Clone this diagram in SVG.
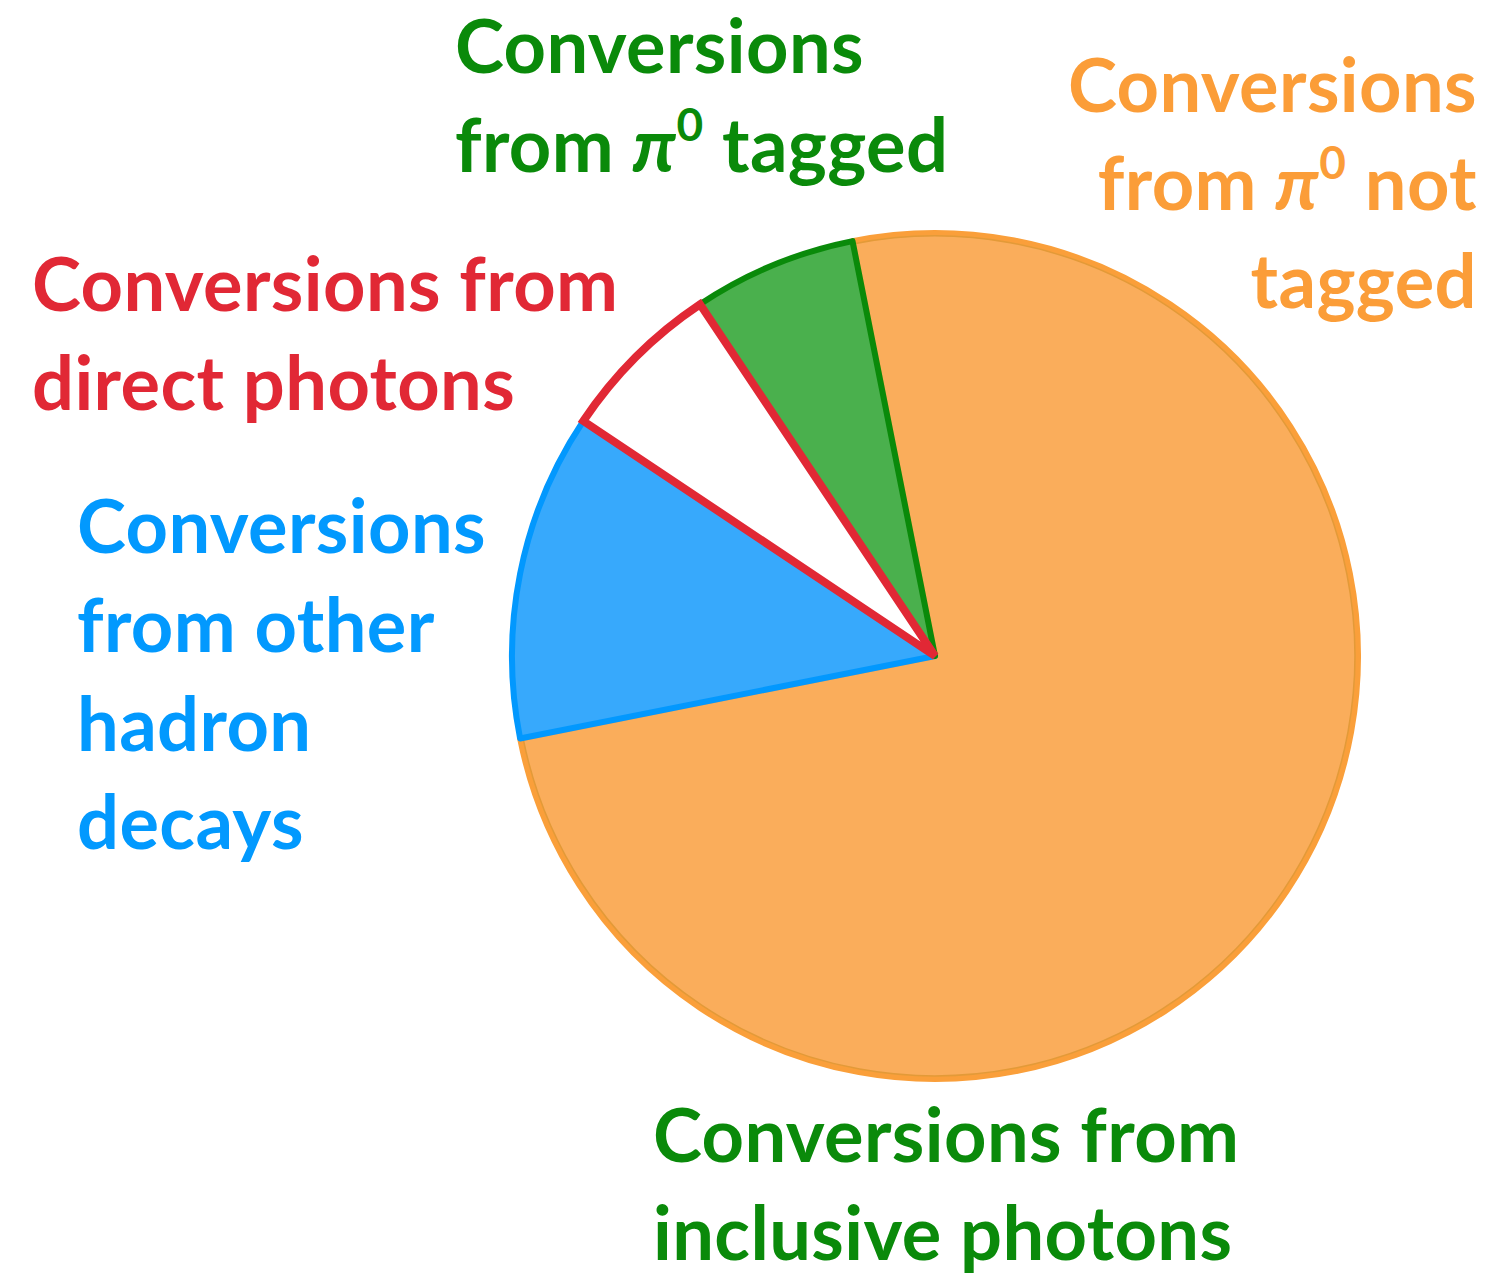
<svg xmlns="http://www.w3.org/2000/svg" width="1485" height="1277" viewBox="0 0 1485 1277">
  <style>
    .lbl { font-family: Lato, "Open Sans", "Liberation Sans", sans-serif; font-weight: 700; font-size: 74px; letter-spacing: 0.4px; }
    .green { fill: #0A8A0A; }
    .orange { fill: #FB9D38; }
    .red { fill: #E12835; }
    .blue { fill: #0299FE; }
    .sup { font-size: 46px; }
    .pi { font-style: italic; }
    .slice { stroke-width: 6; stroke-linejoin: round; }
  </style>
  <rect width="1485" height="1277" fill="#FFFFFF"/>

  <!-- pie chart: centre (935,656), radius 423 -->
  <g id="pie">
    <g id="slice-inclusive">
      <path class="slice" d="M935,656 L852.5,241.1 A423,423 0 1 1 520.1,738.5 Z" fill="#FAAD5B" stroke="#FA9F3A"/>
      <path d="M852.9,244 A420,420 0 1 1 523,737.9" fill="none" stroke="#E39A38" stroke-width="1.5"/>
    </g>
    <g id="slice-other-hadrons">
      <path class="slice" d="M935,656 L520.1,738.5 A423,423 0 0 1 583.3,421 Z" fill="#37A9FC" stroke="#0298FE"/>
    </g>
    <g id="slice-pi0-tagged">
      <path class="slice" d="M935,656 L700,304.3 A423,423 0 0 1 852.5,241.1 Z" fill="#4AB04D" stroke="#0A8A0A"/>
    </g>
    <g id="slice-direct">
      <path d="M935,656 L583.3,421 A423,423 0 0 1 700,304.3 Z" fill="#FFFFFF" stroke="#E12835" stroke-width="8" stroke-linejoin="miter"/>
    </g>
  </g>

  <!-- labels -->
  <g id="label-pi0-tagged">
    <text class="lbl green" x="455" y="73">Conversions</text>
    <text class="lbl green" x="455" y="172">from <tspan class="pi">π</tspan><tspan class="sup" dy="-31">0</tspan><tspan dy="31"> tagged</tspan></text>
  </g>
  <g id="label-pi0-not-tagged">
    <text class="lbl orange" x="1477" y="112" text-anchor="end">Conversions</text>
    <text class="lbl orange" x="1477" y="210" text-anchor="end">from <tspan class="pi">π</tspan><tspan class="sup" dy="-31">0</tspan><tspan dy="31"> not</tspan></text>
    <text class="lbl orange" x="1477" y="308" text-anchor="end">tagged</text>
  </g>
  <g id="label-direct">
    <text class="lbl red" x="32" y="311">Conversions from</text>
    <text class="lbl red" x="32" y="410">direct photons</text>
  </g>
  <g id="label-other-hadrons">
    <text class="lbl blue" x="77" y="553">Conversions</text>
    <text class="lbl blue" x="77" y="652">from other</text>
    <text class="lbl blue" x="77" y="751">hadron</text>
    <text class="lbl blue" x="77" y="849">decays</text>
  </g>
  <g id="label-inclusive">
    <text class="lbl green" x="653" y="1162">Conversions from</text>
    <text class="lbl green" x="653" y="1260">inclusive photons</text>
  </g>
</svg>
